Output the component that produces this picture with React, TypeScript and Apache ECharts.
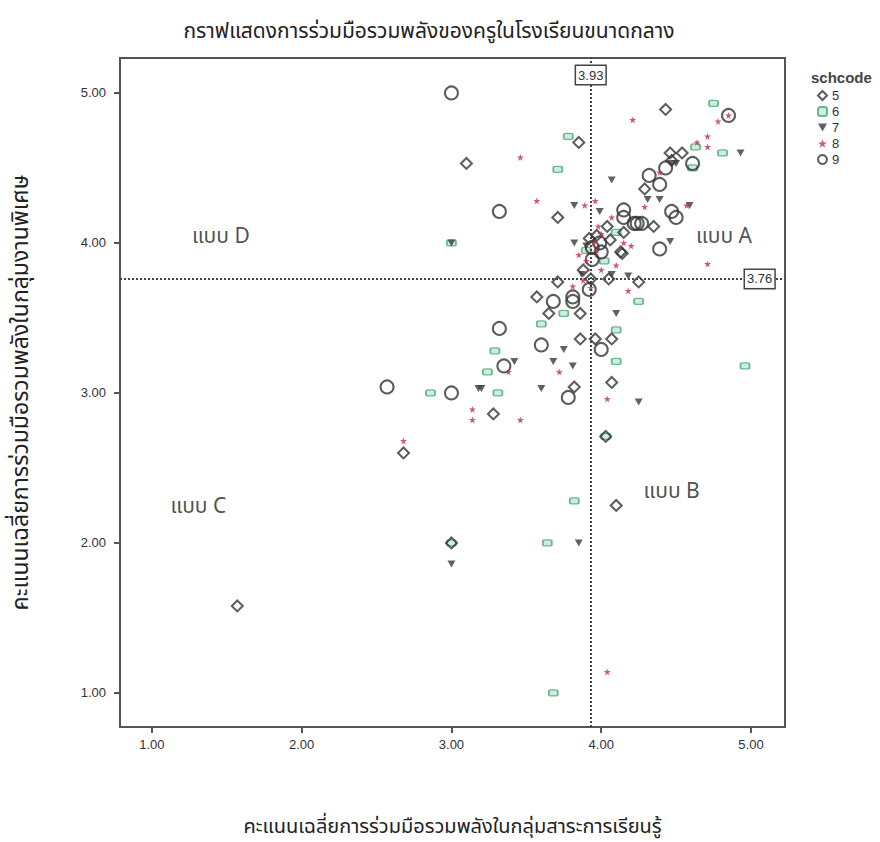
import React, { useEffect, useRef } from "react";
import * as echarts from "echarts";

const titleText = "กราฟแสดงการร่วมมือรวมพลังของครูในโรงเรียนขนาดกลาง";
const xTitle = "คะแนนเฉลี่ยการร่วมมือรวมพลังในกลุ่มสาระการเรียนรู้";
const yTitle = "คะแนนเฉลี่ยการร่วมมือรวมพลังในกลุ่มงานพิเศษ";
const legendTitle = "schcode";
const schoolCodes = ["5", "6", "7", "8", "9"];

const meanX = 3.93;
const meanY = 3.76;

const quadrantNames = ["แบบ A", "แบบ B", "แบบ C", "แบบ D"];
const quadrantPos: [number, number][] = [
  [4.82, 4.04],
  [4.47, 2.34],
  [1.31, 2.24],
  [1.46, 4.04],
];

const s5: [number, number][] = [
  [1.57, 1.58], [2.68, 2.6], [3.0, 2.0], [4.03, 2.71], [4.1, 2.25], [3.1, 4.53], [3.85, 4.67], [4.43, 4.89],
  [4.46, 4.6], [4.54, 4.6], [4.47, 4.55], [4.29, 4.36], [4.35, 4.11], [4.15, 4.07], [4.04, 4.11], [3.71, 4.17],
  [3.92, 4.03], [4.06, 4.02], [4.13, 3.94], [4.14, 3.93], [4.25, 3.74], [3.71, 3.74], [3.93, 3.76], [4.05, 3.76],
  [3.86, 3.53], [3.86, 3.36], [3.96, 3.36], [4.07, 3.36], [4.07, 3.07], [3.82, 3.04], [3.28, 2.86], [3.57, 3.64],
  [3.65, 3.53], [3.97, 4.05], [3.88, 3.82],
];
const s6: [number, number][] = [
  [3.0, 2.0], [4.03, 2.71], [3.82, 2.28], [3.64, 2.0], [3.68, 1.0], [3.78, 4.71], [3.71, 4.49], [3.0, 4.0],
  [4.1, 4.07], [4.75, 4.93], [4.63, 4.64], [4.81, 4.6], [4.61, 4.5], [4.25, 3.61], [4.1, 3.42], [4.1, 3.21],
  [4.96, 3.18], [3.75, 3.53], [2.86, 3.0], [3.31, 3.0], [3.24, 3.14], [3.29, 3.28], [3.6, 3.46], [3.9, 3.95],
  [4.02, 3.88],
];
const s7: [number, number][] = [
  [3.85, 2.0], [3.0, 1.86], [4.07, 4.42], [3.82, 4.25], [3.99, 4.21], [3.0, 4.0], [4.93, 4.6], [4.5, 4.53],
  [4.31, 4.29], [4.39, 4.29], [4.59, 4.25], [4.46, 4.01], [4.18, 3.78], [4.07, 3.79], [4.1, 3.53], [3.81, 3.18],
  [4.25, 2.94], [3.75, 3.29], [3.18, 3.03], [3.2, 3.03], [3.42, 3.21], [3.68, 3.21], [3.6, 3.03], [3.82, 4.0],
  [3.87, 3.79], [3.9, 3.98], [4.47, 4.53],
];
const s8: [number, number][] = [
  [2.68, 2.68], [4.04, 1.14], [3.46, 4.57], [3.57, 4.28], [3.89, 4.25], [3.96, 4.28], [4.21, 4.82], [4.78, 4.81],
  [4.64, 4.67], [4.71, 4.71], [4.71, 4.64], [4.39, 4.47], [4.29, 4.24], [4.57, 4.25], [4.71, 3.86], [4.18, 3.68],
  [3.81, 3.71], [4.04, 2.96], [3.14, 2.89], [3.14, 2.82], [3.46, 2.82], [3.38, 3.14], [3.72, 3.14], [4.07, 4.17],
  [3.98, 4.11], [3.95, 4.0], [3.97, 3.95], [3.9, 3.88], [4.0, 3.82], [3.93, 3.7], [4.1, 3.85], [4.15, 4.0],
  [4.85, 4.85], [3.85, 3.92], [4.0, 4.06], [3.88, 3.75], [4.2, 3.98],
];
const s9: [number, number][] = [
  [3.0, 5.0], [3.32, 4.21], [4.15, 4.22], [4.15, 4.17], [4.24, 4.13], [4.32, 4.45], [4.39, 4.39], [4.43, 4.5],
  [4.61, 4.53], [4.47, 4.21], [4.5, 4.17], [4.22, 4.13], [4.27, 4.13], [4.39, 3.96], [4.85, 4.85], [3.81, 3.61],
  [4.0, 3.29], [3.78, 2.97], [2.57, 3.04], [3.0, 3.0], [3.35, 3.18], [3.32, 3.43], [3.6, 3.32], [3.68, 3.61],
  [3.99, 4.0], [4.0, 3.94], [3.94, 3.97], [3.94, 3.89], [3.92, 3.69], [3.81, 3.64],
];

const thaiFont = 'Tahoma, "Noto Sans Thai", "Noto Sans", "DejaVu Sans", sans-serif';
const latinFont = "Arial, Liberation Sans, sans-serif";
const starPath =
  "path://M5,0 L6.2,3.6 L10,3.6 L6.9,5.8 L8.1,9.5 L5,7.2 L1.9,9.5 L3.1,5.8 L0,3.6 L3.8,3.6 Z";
const downTriangle = "path://M0,0 L10,0 L5,9 Z";

const refLabel = {
  show: true,
  position: "end",
  backgroundColor: "#fff",
  borderColor: "#444",
  borderWidth: 1.5,
  padding: [3, 2, 2, 2],
  color: "#333",
  fontSize: 13,
  fontFamily: latinFont,
};

const axisLabelStyle = {
  showMinLabel: false,
  showMaxLabel: false,
  formatter: (v: number) => (Number.isInteger(v) ? v.toFixed(2) : ""),
  color: "#333",
  fontSize: 13,
  fontFamily: latinFont,
};

export default function App() {
  const ref = useRef<HTMLDivElement>(null);
  useEffect(() => {
    document.body.style.margin = "0";
    const chart = echarts.init(ref.current!, undefined, { renderer: "svg" });
    const option: any = {
      animation: false,
      backgroundColor: "#fff",
      title: [
        {
          text: titleText,
          left: 424,
          textAlign: "center",
          top: 16,
          textStyle: { fontSize: 21, fontWeight: "normal", color: "#222", fontFamily: thaiFont },
        },
        {
          text: legendTitle,
          left: 806,
          top: 65,
          textStyle: { fontSize: 15, fontWeight: "bold", color: "#444", fontFamily: latinFont },
        },
      ],
      legend: {
        data: schoolCodes,
        orient: "vertical",
        left: 812,
        top: 84,
        itemWidth: 9,
        itemHeight: 9,
        itemGap: 3,
        textStyle: { fontSize: 13, color: "#333", fontFamily: latinFont },
      },
      grid: {
        left: 120,
        top: 58,
        width: 665,
        height: 670,
        show: true,
        borderColor: "#555",
        borderWidth: 2,
      },
      xAxis: {
        type: "value",
        min: 0.787,
        max: 5.227,
        splitNumber: 5,
        splitLine: { show: false },
        axisLine: { lineStyle: { color: "#555", width: 2 } },
        axisTick: { length: 6, lineStyle: { color: "#555", width: 2 } },
        axisLabel: { ...axisLabelStyle, margin: 11 },
        name: xTitle,
        nameLocation: "middle",
        nameGap: 90,
        nameTextStyle: { fontSize: 20, color: "#222", fontFamily: thaiFont },
      },
      yAxis: {
        type: "value",
        min: 0.773,
        max: 5.233,
        splitNumber: 5,
        splitLine: { show: false },
        axisLine: { lineStyle: { color: "#555", width: 2 } },
        axisTick: { length: 6, lineStyle: { color: "#555", width: 2 } },
        axisLabel: { ...axisLabelStyle, margin: 14 },
        name: yTitle,
        nameLocation: "middle",
        nameRotate: 90,
        nameGap: 88,
        nameTextStyle: { fontSize: 23, color: "#222", fontFamily: thaiFont },
      },
      series: [
        {
          name: "5",
          type: "scatter",
          symbol: "diamond",
          symbolSize: 11,
          data: s5,
          itemStyle: { color: "rgba(255,255,255,0)", borderColor: "#333", borderWidth: 2 },
          markLine: {
            silent: true,
            symbol: ["none", "none"],
            lineStyle: { type: "dotted", color: "#444", width: 2 },
            data: [
              { xAxis: meanX, label: { ...refLabel, formatter: meanX.toFixed(2), distance: -26 } },
              { yAxis: meanY, label: { ...refLabel, formatter: meanY.toFixed(2), distance: -40 } },
            ],
          },
          z: 3,
        },
        {
          name: "6",
          type: "scatter",
          symbol: "roundRect",
          symbolSize: [9, 6],
          data: s6,
          itemStyle: { color: "#c4e8d3", borderColor: "#4aa87a", borderWidth: 1.5 },
          z: 2,
        },
        {
          name: "7",
          type: "scatter",
          symbol: downTriangle,
          symbolSize: [8, 7],
          data: s7,
          itemStyle: { color: "#3a3a3a" },
          z: 4,
        },
        {
          name: "8",
          type: "scatter",
          symbol: starPath,
          symbolSize: 7,
          data: s8,
          itemStyle: { color: "#c0304a" },
          z: 4,
        },
        {
          name: "9",
          type: "scatter",
          symbol: "circle",
          symbolSize: 13,
          data: s9,
          itemStyle: { color: "rgba(255,255,255,0)", borderColor: "#333", borderWidth: 2 },
          z: 3,
        },
        {
          name: "quadrants",
          type: "scatter",
          symbolSize: 0,
          silent: true,
          data: quadrantNames.map((n, i) => ({ name: n, value: quadrantPos[i] })),
          label: {
            show: true,
            position: "inside",
            formatter: (p: any) => p.name,
            fontSize: 21,
            color: "#222",
            fontFamily: thaiFont,
          },
        },
      ],
    };
    chart.setOption(option);
    return () => chart.dispose();
  }, []);
  return <div ref={ref} style={{ width: 880, height: 842 }} />;
}
